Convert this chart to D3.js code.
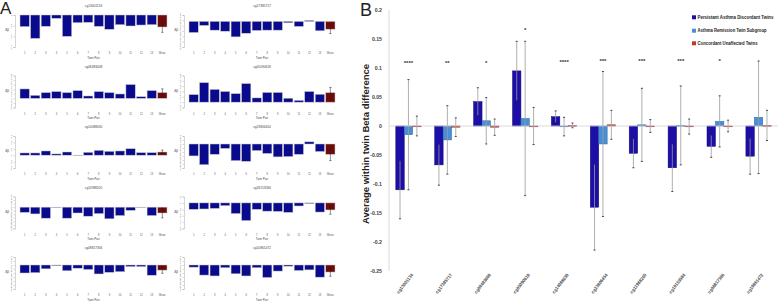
<!DOCTYPE html>
<html>
<head>
<meta charset="utf-8">
<script src="https://cdn.jsdelivr.net/npm/d3@7"></script>
<style>
  body { margin: 0; background: #fff; }
  svg { display: block; }
</style>
</head>
<body>
<script>
// ---- panel A: per-site twin pair differences ----
const pairLabels = ["1","2","3","4","5","6","7","8","9","10","11","12","13","Mean"];
const panelTitles = ["cg13001134","cg17385717","cg08483008","cg05090618","cg14088030",
                     "cg23806454","cg11988205","cg18153584","cg08817306","cg10861472"];
const pairDiffs = [
  [-0.109,-0.219,-0.106,-0.031,-0.200,-0.072,-0.069,-0.106,-0.134,-0.091,-0.103,-0.094,-0.091],
  [-0.104,-0.038,-0.082,-0.092,-0.145,-0.111,-0.085,-0.082,-0.082,-0.013,-0.047,0.009,-0.088],
  [0.103,0.033,0.063,0.074,0.063,0.085,0.026,0.074,0.063,0.048,0.151,0.018,0.085],
  [0.071,0.183,0.120,0.100,0.080,0.174,0.040,0.091,0.091,0.037,0.017,0.100,0.074],
  [0.035,0.035,0.066,0.020,0.050,-0.005,0.045,0.076,0.061,0.066,0.101,0.040,0.040],
  [-0.149,-0.259,-0.129,-0.055,-0.208,-0.216,-0.082,-0.118,-0.161,-0.157,-0.129,0.027,-0.094],
  [-0.073,-0.095,-0.155,-0.009,-0.155,-0.082,-0.127,-0.091,-0.164,-0.118,-0.045,-0.005,-0.118],
  [-0.100,-0.095,-0.086,-0.043,-0.167,-0.276,-0.100,-0.129,-0.133,-0.148,-0.048,-0.010,-0.143],
  [-0.100,-0.096,-0.048,-0.004,-0.072,-0.040,-0.056,-0.112,-0.092,-0.084,-0.020,-0.020,-0.128],
  [-0.027,-0.126,-0.137,-0.034,-0.110,-0.137,-0.034,-0.156,-0.076,-0.015,-0.069,-0.061,-0.152]
];
const pairMean = [-0.1125,-0.073,0.063,0.089,0.050,-0.129,-0.082,-0.110,-0.064,-0.088];
const pairMeanErr = [0.050,0.041,0.041,0.049,0.030,0.078,0.068,0.067,0.040,0.053];
const panelDomains = [[-0.3,0],[-0.24,0.06],[-0.1,0.25],[-0.05,0.25],[-0.2,0.3],
                      [-0.3,0.1],[-0.3,0.15],[-0.4,0.1],[-0.3,0.1],[-0.3,0.1]];
const panelTickStep = [0.1,0.05,0.05,0.05,0.1,0.05,0.05,0.1,0.05,0.05];

// ---- panel B: group averages ----
const sites = ["cg13001134","cg17385717","cg08483008","cg05090618","cg14088030",
               "cg23806454","cg11988205","cg18153584","cg08817306","cg10861472"];
const seriesNames = ["Persistant Asthma Discordant Twins","Asthma Remission Twin Subgroup","Concordant Unaffected Twins"];
const persistant    = [-0.110,-0.067,0.042,0.095,0.016,-0.140,-0.047,-0.072,-0.035,-0.052];
const persistantErr = [0.050,0.035,0.024,0.051,0.010,0.074,0.025,0.041,0.019,0.031];
const remission     = [-0.015,-0.024,0.009,0.013,-0.001,-0.031,0.002,0.001,0.008,0.015];
const remissionErr  = [0.095,0.059,0.040,0.133,0.016,0.125,0.063,0.068,0.044,0.097];
const concordant    = [0.000,-0.002,-0.002,0.000,0.001,0.002,0.000,-0.001,0.000,0.001];
const concordantErr = [0.017,0.016,0.014,0.032,0.004,0.025,0.011,0.013,0.010,0.026];
const stars  = ["****","**","*","*","****","***","***","***","*",""];
const starAt = [0.108,0.108,0.108,0.166,0.110,0.112,0.112,0.112,0.112,null];
const bTicks = [0.2,0.15,0.1,0.05,0,-0.05,-0.1,-0.15,-0.2,-0.25];

const width = 778, height = 303;
const svg = d3.select("body").append("svg")
  .attr("width", width).attr("height", height)
  .attr("font-family", "Liberation Sans, Arial, sans-serif");

// ================= Panel A =================
svg.append("text").attr("x", 0).attr("y", 14)
  .attr("font-size", 17).attr("fill", "#222").text("A");

const rowTops = [0, 60.5, 121, 181.5, 242];
const cols = [
  {axisX: 15, x0: 20, x1: 167},
  {axisX: 184, x0: 189, x1: 335}
];

pairDiffs.forEach((vals, i) => {
  const col = cols[i % 2], top = rowTops[Math.floor(i / 2)];
  const g = svg.append("g");
  const x = d3.scaleBand().domain(pairLabels).range([col.x0, col.x1]).paddingInner(0.12);
  const y = d3.scaleLinear().domain(panelDomains[i]).range([top + 47, top + 15]);
  const rows = vals.map((v, j) => ({k: pairLabels[j], v}))
    .concat([{k: "Mean", v: pairMean[i], e: pairMeanErr[i]}]);

  g.append("text").attr("x", (col.x0 + col.x1) / 2).attr("y", top + 7)
    .attr("text-anchor", "middle").attr("font-size", 3.2).attr("fill", "#444")
    .text(panelTitles[i]);

  const ticks = d3.range(panelDomains[i][0], panelDomains[i][1] + 1e-9, panelTickStep[i])
    .map(t => Math.round(t * 100) / 100);
  const ax = g.append("g").attr("transform", `translate(${col.axisX},0)`)
    .call(d3.axisLeft(y).tickValues(ticks).tickSize(1.5).tickFormat(d3.format(".2")));
  ax.select(".domain").attr("stroke", "#aaa").attr("stroke-width", 0.5);
  ax.selectAll(".tick line").attr("stroke", "#aaa").attr("stroke-width", 0.5);
  ax.selectAll("text").attr("font-size", 2.4).attr("fill", "#555")
    .attr("x", -3).attr("y", 0).attr("dy", 0)
    .attr("transform", "rotate(-90,-3,0)").attr("text-anchor", "middle");

  g.append("text").attr("x", col.axisX - 8).attr("y", top + 31)
    .attr("font-size", 3).attr("fill", "#444").attr("text-anchor", "middle").text("\u0394\u03b2");

  g.selectAll("rect").data(rows).join("rect")
    .attr("x", d => x(d.k)).attr("width", x.bandwidth())
    .attr("y", d => y(Math.max(0, d.v)))
    .attr("height", d => Math.max(0.6, Math.abs(y(d.v) - y(0))))
    .attr("fill", d => d.k === "Mean" ? "#6e0a0a" : "#0a0a8c")
    .attr("stroke", "#c8c8c8").attr("stroke-width", 0.5);

  const m = rows[rows.length - 1], cx = x("Mean") + x.bandwidth() / 2;
  g.append("line").attr("x1", cx).attr("x2", cx)
    .attr("y1", y(m.v - m.e)).attr("y2", y(m.v + m.e)).attr("stroke", "#222").attr("stroke-width", 0.5);
  [m.v - m.e, m.v + m.e].forEach(v => g.append("line")
    .attr("x1", cx - 1.2).attr("x2", cx + 1.2).attr("y1", y(v)).attr("y2", y(v))
    .attr("stroke", "#222").attr("stroke-width", 0.5));

  g.selectAll("text.xt").data(pairLabels).join("text").attr("class", "xt")
    .attr("x", d => x(d) + x.bandwidth() / 2).attr("y", top + 54)
    .attr("text-anchor", "middle").attr("font-size", 2.6).attr("fill", "#555").text(d => d);
  g.append("text").attr("x", (col.x0 + col.x1) / 2).attr("y", top + 58.5)
    .attr("text-anchor", "middle").attr("font-size", 3).attr("fill", "#444").text("Twin Pair");
});

// ================= Panel B =================
svg.append("text").attr("x", 360).attr("y", 16)
  .attr("font-size", 18).attr("fill", "#222").text("B");

const bx = d3.scaleBand().domain(sites).range([389, 778]).paddingInner(0.35).paddingOuter(0.175);
const bx1 = d3.scaleBand().domain(seriesNames).range([0, bx.bandwidth()]);
const by = d3.scaleLinear().domain([-0.25, 0.2]).range([271, 10]);
const colors = ["#1c0ea6", "#4a8fd6", "#c0392b"];
const strokes = ["#120a70", "#2f6aa8", "#8a1f1f"];

const groups = sites.map((s, i) => ({
  site: s,
  bars: [
    {name: seriesNames[0], v: persistant[i], e: persistantErr[i], c: 0},
    {name: seriesNames[1], v: remission[i], e: remissionErr[i], c: 1},
    {name: seriesNames[2], v: concordant[i], e: concordantErr[i], c: 2}
  ]
}));

// y axis
svg.append("line").attr("x1", 389).attr("x2", 389).attr("y1", by(0.2)).attr("y2", by(-0.25))
  .attr("stroke", "#d0d0d0").attr("stroke-width", 0.8);
svg.append("g").selectAll("text").data(bTicks).join("text")
  .attr("x", 382).attr("y", d => by(d)).attr("dy", "0.35em").attr("text-anchor", "end")
  .attr("font-size", 5.2).attr("font-weight", "bold").attr("fill", "#444").text(d => d);
svg.append("text")
  .attr("transform", `translate(369,144) rotate(-90)`)
  .attr("text-anchor", "middle").attr("font-size", 9.5).attr("font-weight", "bold")
  .attr("fill", "#222").text("Average within twin Beta difference");

// bars
const bg = svg.append("g").selectAll("g").data(groups).join("g")
  .attr("transform", d => `translate(${bx(d.site)},0)`);
bg.selectAll("rect").data(d => d.bars).join("rect")
  .attr("x", d => bx1(d.name)).attr("width", bx1.bandwidth())
  .attr("y", d => by(Math.max(0, d.v)))
  .attr("height", d => Math.max(0.8, Math.abs(by(d.v) - by(0))))
  .attr("fill", d => colors[d.c]).attr("stroke", d => strokes[d.c]).attr("stroke-width", 0.5);

// zero line
svg.append("line").attr("x1", 389).attr("x2", 778).attr("y1", by(0)).attr("y2", by(0))
  .attr("stroke", "#d0d0d0").attr("stroke-width", 0.8);

// error bars
bg.each(function (d) {
  const gg = d3.select(this);
  d.bars.forEach(b => {
    const cx = bx1(b.name) + bx1.bandwidth() / 2;
    gg.append("line").attr("x1", cx).attr("x2", cx)
      .attr("y1", by(b.v - b.e)).attr("y2", by(b.v + b.e))
      .attr("stroke", "#9a9a9a").attr("stroke-width", 0.8);
    [b.v - b.e, b.v + b.e].forEach(v => gg.append("line")
      .attr("x1", cx - 1).attr("x2", cx + 1).attr("y1", by(v)).attr("y2", by(v))
      .attr("stroke", "#333").attr("stroke-width", 0.9));
  });
});

// significance stars
svg.append("g").selectAll("text").data(sites.filter((s, i) => stars[i])).join("text")
  .attr("x", s => bx(s) + bx.bandwidth() / 2)
  .attr("y", s => by(starAt[sites.indexOf(s)]) + 2)
  .attr("text-anchor", "middle").attr("font-size", 6).attr("font-weight", "bold")
  .attr("fill", "#333").text(s => stars[sites.indexOf(s)]);

// x labels
svg.append("g").selectAll("text").data(sites).join("text")
  .attr("transform", s => `translate(${bx(s) + bx.bandwidth() / 2 + 5},275) rotate(-52)`)
  .attr("text-anchor", "end").attr("font-size", 4.6).attr("font-weight", "bold")
  .attr("textLength", 24).attr("lengthAdjust", "spacingAndGlyphs")
  .attr("fill", "#444").text(s => s);

// legend
const legendWidths = [76, 69, 60];
const lg = svg.append("g").selectAll("g").data(seriesNames).join("g")
  .attr("transform", (d, i) => `translate(692,${[17.3, 30.7, 43.3][i]})`);
lg.append("rect").attr("x", 0).attr("y", -2).attr("width", 4).attr("height", 4)
  .attr("fill", (d, i) => colors[i]);
lg.append("text").attr("x", 5.5).attr("y", 0).attr("dy", "0.35em")
  .attr("font-size", 4.5).attr("font-weight", "bold").attr("fill", "#222")
  .attr("textLength", (d, i) => legendWidths[i]).attr("lengthAdjust", "spacingAndGlyphs")
  .text(d => d);
</script>
</body>
</html>
